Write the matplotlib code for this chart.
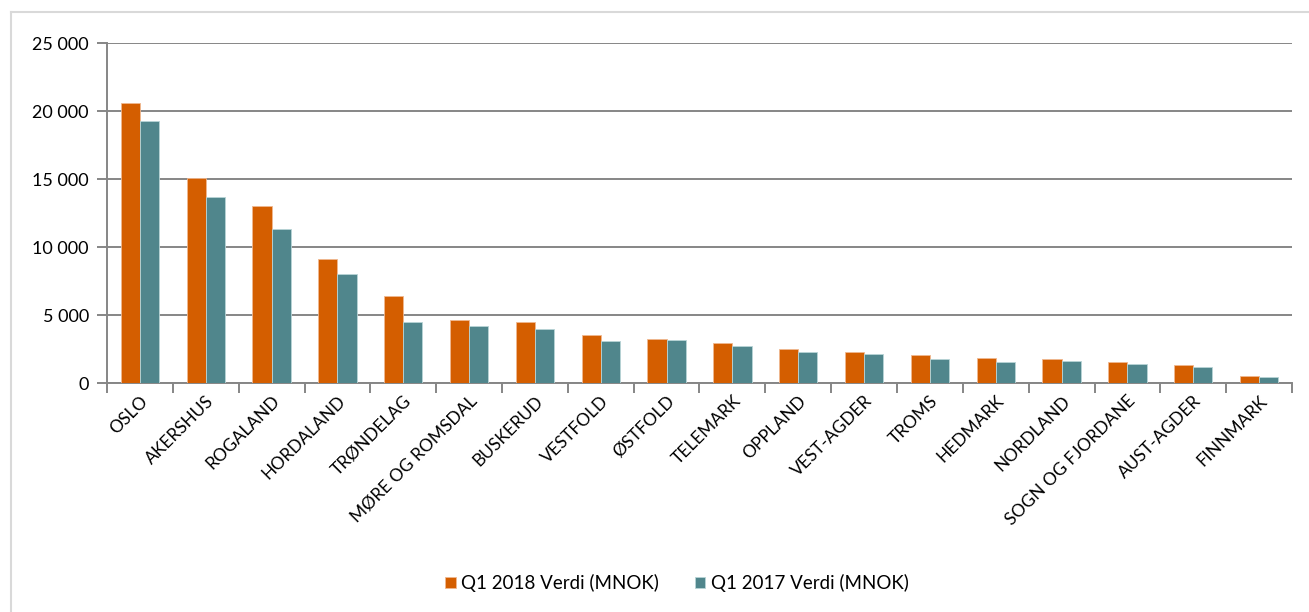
import numpy as np
import matplotlib.pyplot as plt
from matplotlib.ticker import FuncFormatter, FixedLocator

plt.rcParams['font.family'] = ['Lato', 'DejaVu Sans']

fylker = ['OSLO', 'AKERSHUS', 'ROGALAND', 'HORDALAND', 'TRØNDELAG',
          'MØRE OG ROMSDAL', 'BUSKERUD', 'VESTFOLD', 'ØSTFOLD', 'TELEMARK',
          'OPPLAND', 'VEST-AGDER', 'TROMS', 'HEDMARK', 'NORDLAND',
          'SOGN OG FJORDANE', 'AUST-AGDER', 'FINNMARK']
q1_2018 = [20600, 15100, 13000, 9100, 6400, 4600, 4500, 3500, 3250, 2920,
           2530, 2300, 2030, 1810, 1770, 1570, 1320, 510]
q1_2017 = [19300, 13700, 11350, 8000, 4450, 4170, 4000, 3120, 3160, 2700,
           2260, 2120, 1790, 1520, 1640, 1420, 1150, 440]

ORANGE = '#D45E00'
TEAL = '#50868C'
GREY = '#868686'

W, H = 1309, 612
fig = plt.figure(figsize=(W / 100, H / 100), dpi=100)
ax = fig.add_axes([107 / W, 1 - 383 / H, (1292 - 107) / W, (383 - 43) / H])

x = np.arange(len(fylker))
bw = 0.29
ax.bar(x - bw / 2, q1_2018, bw, color=ORANGE, edgecolor='#F0B890', linewidth=0.6,
       label='Q1 2018 Verdi (MNOK)', zorder=3)
ax.bar(x + bw / 2, q1_2017, bw, color=TEAL, edgecolor='#B8D4D6', linewidth=0.6,
       label='Q1 2017 Verdi (MNOK)', zorder=3)

ax.set_xlim(-0.5, len(fylker) - 0.5)
ax.set_ylim(0, 25000)
ax.set_yticks(np.arange(0, 25001, 5000))
ax.yaxis.set_major_formatter(FuncFormatter(lambda v, p: f'{int(v):,}'.replace(',', ' ')))
ax.grid(axis='y', color=GREY, linewidth=1.4, zorder=0)

# category labels at centers, tick marks on boundaries
ax.set_xticks(x)
ax.set_xticklabels(fylker, rotation=45, ha='right', rotation_mode='anchor', fontsize=12.5)
ax.tick_params(axis='x', which='major', length=0, pad=7)
ax.xaxis.set_minor_locator(FixedLocator(np.arange(-0.5, len(fylker), 1.0)))
ax.tick_params(axis='x', which='minor', length=7, width=1.4, color=GREY)
ax.tick_params(axis='y', length=7, width=1.4, color=GREY, labelsize=13, pad=6)

for s in ['top', 'right']:
    ax.spines[s].set_visible(False)
for s in ['left', 'bottom']:
    ax.spines[s].set_color(GREY)
    ax.spines[s].set_linewidth(1.4)

fig.legend(loc='center', bbox_to_anchor=(677 / W, 1 - 583 / H), ncol=2,
           frameon=False, fontsize=13.5, handlelength=0.55, handleheight=0.55,
           handletextpad=0.3, columnspacing=1.9)

# light frame round the chart area
fig.add_artist(plt.Line2D([11 / W, 11 / W], [0, 1 - 12 / H], color='#D9D9D9',
                          linewidth=1.5, transform=fig.transFigure))
fig.add_artist(plt.Line2D([11 / W, 1], [1 - 12 / H, 1 - 12 / H], color='#D9D9D9',
                          linewidth=1.5, transform=fig.transFigure))

fig.savefig('out.png', dpi=100)
